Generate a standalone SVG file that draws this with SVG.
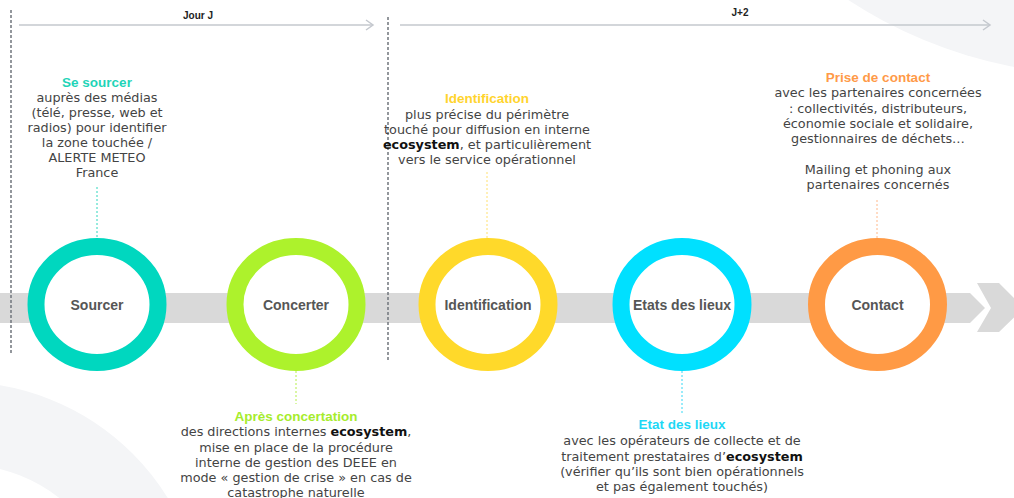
<svg xmlns="http://www.w3.org/2000/svg" width="1014" height="498" viewBox="0 0 1014 498">
<defs>
<style>
.ring{fill:#ffffff;stroke-width:17}
.lbl{font-family:"Liberation Sans",Arial,sans-serif;font-weight:bold;font-size:14px;fill:#565656;text-anchor:middle}
.ttl{font-family:"Liberation Sans",Arial,sans-serif;font-weight:bold;font-size:13.5px;text-anchor:middle}
.body{font-family:"DejaVu Sans","Liberation Sans",sans-serif;font-size:12.8px;fill:#444444;text-anchor:middle}
.eco{font-weight:bold;fill:#111111}
.phase{font-family:"Liberation Sans",Arial,sans-serif;font-weight:bold;font-size:10px;fill:#222222;text-anchor:middle}
.tl{stroke:#c4c8ce;stroke-width:1.5;fill:none}
.vd{stroke:#70757c;stroke-width:1.5;stroke-dasharray:3 2;fill:none}
.cn{stroke-width:1;stroke-dasharray:2 2;fill:none}
</style>
</defs>
<rect width="1014" height="498" fill="#ffffff"/>
<!-- background decorations -->
<circle cx="1100" cy="-385" r="460" fill="#f4f5f7"/>
<circle cx="-40" cy="626" r="203" fill="none" stroke="#f4f5f7" stroke-width="82"/>
<!-- timeline band -->
<polygon points="0,293 970,293 985,308 970,323 0,323" fill="#d9d9d9"/>
<polygon points="977,283 999,283 1024,308 999,332 977,332 991,308" fill="#d9d9d9"/>
<!-- phase arrows -->
<g id="phase-jour-j">
<line class="tl" x1="19" y1="25" x2="373" y2="25"/>
<polyline class="tl" points="366,20 373,25 366,30"/>
<text class="phase" x="198" y="19">Jour J</text>
</g>
<g id="phase-j2">
<line class="tl" x1="400" y1="25" x2="990" y2="25"/>
<polyline class="tl" points="983,20 990,25 983,30"/>
<text class="phase" x="740" y="16">J+2</text>
</g>
<line class="vd" x1="11" y1="10" x2="11" y2="353"/>
<line class="vd" x1="388" y1="17" x2="388" y2="360"/>
<!-- connectors -->
<g id="connectors">
<line class="cn" stroke="#2fd6bd" x1="97" y1="187" x2="97" y2="238"/>
<line class="cn" stroke="#b5ee4a" x1="296" y1="371" x2="296" y2="404"/>
<line class="cn" stroke="#ffe070" x1="487" y1="172" x2="487" y2="238"/>
<line class="cn" stroke="#35d8f5" x1="682" y1="371" x2="682" y2="413"/>
<line class="cn" stroke="#ffb88a" x1="877" y1="200" x2="877" y2="238"/>
</g>
<!-- nodes -->
<g id="sourcer">
<ellipse class="ring" cx="97" cy="304.5" rx="61" ry="58" stroke="#00d7bf"/>
<text class="lbl" x="97" y="310">Sourcer</text>
<text class="ttl" x="97" y="87" fill="#1fd4b8">Se sourcer</text>
<text class="body"><tspan x="97" y="102">auprès des médias</tspan><tspan x="97" y="117">(télé, presse, web et</tspan><tspan x="97" y="132">radios) pour identifier</tspan><tspan x="97" y="147">la zone touchée /</tspan><tspan x="97" y="162">ALERTE METEO</tspan><tspan x="97" y="177">France</tspan></text>
</g>
<g id="concerter">
<ellipse class="ring" cx="296" cy="304.5" rx="61" ry="58" stroke="#adf22c"/>
<text class="lbl" x="296" y="310">Concerter</text>
<text class="ttl" x="296" y="421" fill="#a6ec2c">Après concertation</text>
<text class="body"><tspan x="296" y="436">des directions internes <tspan class="eco">ecosystem</tspan>,</tspan><tspan x="296" y="452">mise en place de la procédure</tspan><tspan x="296" y="467">interne de gestion des DEEE en</tspan><tspan x="296" y="482">mode « gestion de crise » en cas de</tspan><tspan x="296" y="497">catastrophe naturelle</tspan></text>
</g>
<g id="identification">
<ellipse class="ring" cx="488" cy="304.5" rx="61" ry="58" stroke="#ffd92a"/>
<text class="lbl" x="488" y="310">Identification</text>
<text class="ttl" x="487" y="103" fill="#ffd42e">Identification</text>
<text class="body"><tspan x="487" y="119">plus précise du périmètre</tspan><tspan x="487" y="134">touché pour diffusion en interne</tspan><tspan x="487" y="149"><tspan class="eco">ecosystem</tspan>, et particulièrement</tspan><tspan x="487" y="164">vers le service opérationnel</tspan></text>
</g>
<g id="etats-des-lieux">
<ellipse class="ring" cx="682" cy="304.5" rx="61" ry="58" stroke="#00e0ff"/>
<text class="lbl" x="682" y="310">Etats des lieux</text>
<text class="ttl" x="682" y="429" fill="#1fd8f6">Etat des lieux</text>
<text class="body"><tspan x="682" y="445">avec les opérateurs de collecte et de</tspan><tspan x="682" y="461">traitement prestataires d’<tspan class="eco">ecosystem</tspan></tspan><tspan x="682" y="476">(vérifier qu’ils sont bien opérationnels</tspan><tspan x="682" y="491">et pas également touchés)</tspan></text>
</g>
<g id="contact">
<ellipse class="ring" cx="877.5" cy="304.5" rx="61" ry="58" stroke="#ff9a45"/>
<text class="lbl" x="877.5" y="310">Contact</text>
<text class="ttl" x="878" y="82" fill="#ff9a48">Prise de contact</text>
<text class="body"><tspan x="878" y="97">avec les partenaires concernées</tspan><tspan x="878" y="113">: collectivités, distributeurs,</tspan><tspan x="878" y="128">économie sociale et solidaire,</tspan><tspan x="878" y="143">gestionnaires de déchets…</tspan><tspan x="878" y="174">Mailing et phoning aux</tspan><tspan x="878" y="189">partenaires concernés</tspan></text>
</g>
</svg>
